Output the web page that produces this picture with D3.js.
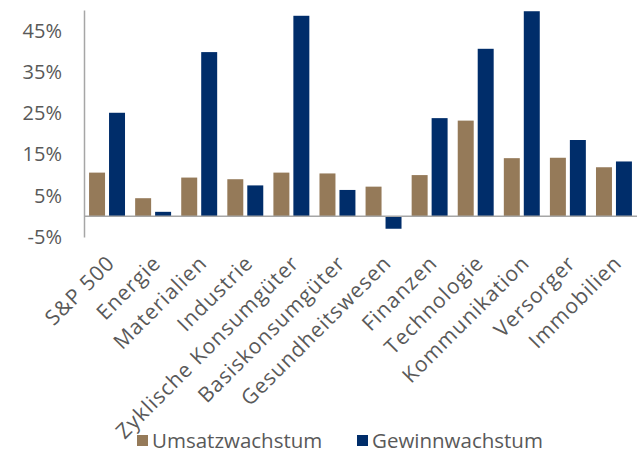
<!DOCTYPE html>
<html>
<head>
<meta charset="utf-8">
<script src="https://cdn.jsdelivr.net/npm/d3@7"></script>
<style>
  html, body { margin: 0; padding: 0; background: #ffffff; }
  svg { display: block; font-family: "Open Sans", "Noto Sans", sans-serif; }
</style>
</head>
<body>
<svg id="chart" width="637" height="456"></svg>
<script>
// Sectors of the S&P 500 with revenue and earnings growth (in %)
const categories = ["S&P 500", "Energie", "Materialien", "Industrie", "Zyklische Konsumgüter",
  "Basiskonsumgüter", "Gesundheitswesen", "Finanzen", "Technologie", "Kommunikation",
  "Versorger", "Immobilien"];
const seriesNames = ["Umsatzwachstum", "Gewinnwachstum"];
const umsatzwachstum = [10.6, 4.4, 9.4, 9.0, 10.6, 10.4, 7.2, 10.0, 23.2, 14.1, 14.2, 11.9];
const gewinnwachstum = [25.1, 1.1, 39.8, 7.5, 48.6, 6.4, -3.0, 23.8, 40.6, 49.7, 18.5, 13.3];
const yTicks = [-5, 5, 15, 25, 35, 45];
const colors = ["#957a59", "#002d6a"];

const svg = d3.select("#chart");
const textColor = "#595959";
const axisColor = "#a6a6a6";

const x = d3.scaleBand().domain(categories).range([84, 637])
  .paddingInner(0.22).paddingOuter(0.11);
const xInner = d3.scaleBand().domain(seriesNames).range([0, x.bandwidth()]).paddingInner(0.2);
const y = d3.scaleLinear().domain([-5, 50]).range([237, 10]);

const rows = categories.map((c, i) => ({ cat: c, values: [umsatzwachstum[i], gewinnwachstum[i]] }));

// bars
const groups = svg.append("g").selectAll("g").data(rows).join("g")
  .attr("transform", d => `translate(${x(d.cat)},0)`);
groups.selectAll("rect")
  .data(d => d.values.map((v, k) => ({ key: seriesNames[k], value: v, k })))
  .join("rect")
  .attr("x", d => xInner(d.key))
  .attr("width", xInner.bandwidth())
  .attr("y", d => y(Math.max(0, d.value)))
  .attr("height", d => Math.abs(y(d.value) - y(0)))
  .attr("fill", d => colors[d.k]);

// zero line
svg.append("line")
  .attr("x1", 84).attr("x2", 637)
  .attr("y1", y(0)).attr("y2", y(0))
  .attr("stroke", axisColor).attr("stroke-width", 1.5);

// y axis
const yAxis = d3.axisLeft(y).tickValues(yTicks).tickSize(0).tickPadding(22)
  .tickFormat(d => d + "%");
const gy = svg.append("g").attr("transform", "translate(84,0)").call(yAxis);
gy.select(".domain").attr("stroke", axisColor).attr("stroke-width", 1.5);
gy.selectAll("text").attr("fill", textColor).attr("font-size", 20)
  .attr("font-family", "Open Sans, sans-serif");

// category labels, slanted
const xAxis = d3.axisBottom(x).tickSize(0).tickPadding(0);
const gx = svg.append("g").attr("transform", `translate(0,${y(0)})`).call(xAxis);
gx.select(".domain").remove();
gx.selectAll("text")
  .attr("fill", textColor).attr("font-size", 21)
  .attr("letter-spacing", 1)
  .attr("font-family", "Open Sans, sans-serif")
  .attr("text-anchor", "end")
  .attr("dy", null).attr("y", 0)
  .attr("transform", "translate(9,48) rotate(-45)");

// legend
const legend = svg.append("g").attr("transform", "translate(137,441)");
const items = legend.selectAll("g").data(seriesNames).join("g")
  .attr("transform", (d, i) => `translate(${i * 220},0)`);
items.append("rect").attr("x", 0).attr("y", -6).attr("width", 11).attr("height", 11)
  .attr("fill", (d, i) => colors[i]);
items.append("text").attr("x", 15).attr("y", 0).attr("dy", "0.35em")
  .attr("fill", textColor).attr("font-size", 20.5).text(d => d);
</script>
</body>
</html>
